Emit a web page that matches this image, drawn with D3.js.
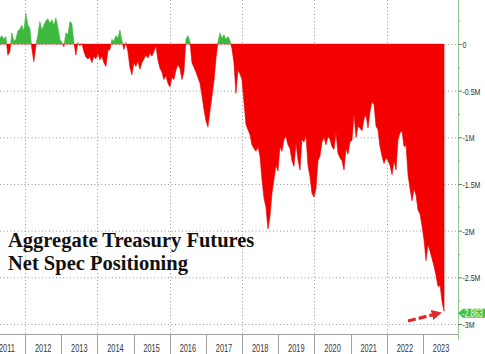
<!DOCTYPE html>
<html><head><meta charset="utf-8">
<script src="https://cdn.jsdelivr.net/npm/d3@7"></script>
<style>
html,body{margin:0;padding:0;background:#fff;}
svg{display:block;}
</style></head>
<body>
<svg id="chart" width="485" height="354"></svg>
<script>
// Net spec positioning (millions of contracts), sampled roughly every 20 days
const startDate = "2011-04-22";
const stepDays = 20.2;
const values = [
 0.06,0.09,0.05,0.08,-0.12,-0.08,0.12,0.03,0.05,0.14,
 0.16,0.2,0.14,0.33,0.2,0.17,-0.05,-0.19,-0.02,0.1,
 0.24,0.15,0.2,0.25,0.27,0.22,0.26,0.2,0.28,0.18,
 0.05,0.02,-0.03,0.12,0.1,0.24,0.22,0.02,-0.12,0.02,
 -0.02,0.01,-0.08,-0.14,-0.16,-0.14,-0.2,-0.13,-0.16,-0.1,
 -0.17,-0.13,-0.2,-0.24,-0.07,-0.06,0.05,0.03,0.09,0.06,
 0.15,0.04,-0.06,0.02,-0.08,-0.25,-0.33,-0.2,-0.24,-0.18,
 -0.27,-0.2,-0.16,-0.12,-0.15,-0.1,-0.13,-0.08,-0.02,-0.17,
 -0.26,-0.3,-0.38,-0.34,-0.42,-0.46,-0.36,-0.38,-0.28,-0.22,
 -0.26,-0.38,-0.3,0.05,0.09,0.03,-0.2,-0.25,-0.3,-0.36,
 -0.42,-0.55,-0.7,-0.82,-0.89,-0.72,-0.56,-0.4,-0.16,0.02,
 0.12,0.06,0.1,0.05,0.08,0.04,-0.05,-0.2,-0.53,-0.28,
 -0.32,-0.38,-0.62,-0.86,-0.92,-0.97,-1.08,-1.12,-1.15,-1.1,
 -1.2,-1.45,-1.65,-1.75,-1.98,-1.85,-1.6,-1.45,-1.3,-1.36,
 -1.1,-1.15,-1.02,-0.99,-1.08,-1.12,-1.25,-1.31,-1.06,-1.24,
 -1.35,-1.02,-1.05,-0.98,-1.3,-1.42,-1.6,-1.64,-1.55,-1.25,
 -1.2,-1.05,-1.0,-1.08,-0.99,-1.02,-1.1,-1.13,-0.95,-1.17,
 -1.22,-1.25,-1.35,-1.12,-1.18,-1.05,-1.03,-0.75,-1.0,-0.88,
 -0.9,-0.93,-0.8,-0.76,-0.9,-0.72,-0.62,-0.65,-0.88,-0.92,
 -1.1,-1.2,-1.28,-1.22,-1.25,-1.3,-1.4,-1.25,-1.35,-1.02,
 -0.95,-0.93,-1.1,-1.08,-1.4,-1.55,-1.68,-1.55,-1.62,-1.78,
 -1.82,-1.95,-2.1,-2.32,-2.15,-2.22,-2.3,-2.38,-2.48,-2.6,
 -2.58,-2.76,-2.863
];
const years = [2011,2012,2013,2014,2015,2016,2017,2018,2019,2020,2021,2022,2023];
const gridYears = [2012,2014,2016,2018,2020,2022];
const yTicks = [0,-0.5,-1,-1.5,-2,-2.5,-3];
const yTickLabels = ["0","-0.5M","-1M","-1.5M","-2M","-2.5M","-3M"];
const yMinorTicks = [0.25,-0.25,-0.75,-1.25,-1.75,-2.25,-2.75];
const lastLabel = "-2.863";
const titleLines = ["Aggregate Treasury Futures","Net Spec Positioning"];

const svg = d3.select("#chart");
const W = 485, H = 354;
const plotRight = 458, plotBottom = 334;
const axisFont = "'Liberation Sans',Arial,sans-serif";
const condense = 0.74;

const t0 = new Date(startDate + "T00:00:00Z").getTime();
const data = values.map((v,i)=>({date:new Date(t0 + i*stepDays*86400000), v}));

const x = d3.scaleUtc()
  .domain([new Date(Date.UTC(2012,0,1)), new Date(Date.UTC(2023,0,1))])
  .range([25,423]);
const y = d3.scaleLinear().domain([0,-3]).range([44,324]);

// grid
const grid = svg.append("g");
grid.selectAll("line.h").data(yTicks).join("line")
  .attr("x1",0).attr("x2",plotRight).attr("y1",d=>y(d)+0.5).attr("y2",d=>y(d)+0.5)
  .attr("stroke","#9a9a9a").attr("stroke-width",1).attr("stroke-dasharray","1,2.5");
grid.selectAll("line.v").data(gridYears).join("line")
  .attr("x1",d=>Math.round(x(new Date(Date.UTC(d,0,1))))+0.5)
  .attr("x2",d=>Math.round(x(new Date(Date.UTC(d,0,1))))+0.5)
  .attr("y1",0).attr("y2",plotBottom)
  .attr("stroke","#9a9a9a").attr("stroke-width",1).attr("stroke-dasharray","1,2.5");

// areas
const defs = svg.append("defs");
defs.append("clipPath").attr("id","pos").append("rect")
  .attr("x",0).attr("y",0).attr("width",plotRight).attr("height",y(0));
defs.append("clipPath").attr("id","neg").append("rect")
  .attr("x",0).attr("y",y(0)).attr("width",plotRight).attr("height",plotBottom-y(0));

const area = d3.area().x(d=>x(d.date)).y0(y(0)).y1(d=>y(d.v)).curve(d3.curveLinear);
svg.append("path").datum(data).attr("d",area).attr("fill","#3db93d")
  .attr("stroke","#3db93d").attr("stroke-width",0.6).attr("clip-path","url(#pos)");
svg.append("path").datum(data).attr("d",area).attr("fill","#f40000")
  .attr("stroke","#e00000").attr("stroke-width",0.6).attr("clip-path","url(#neg)");

// bottom axis
const bx = svg.append("g");
bx.append("line").attr("x1",0).attr("x2",plotRight).attr("y1",plotBottom+0.5).attr("y2",plotBottom+0.5)
  .attr("stroke","#a0a0a0");
bx.selectAll("line.sep").data(years.slice(1)).join("line")
  .attr("x1",d=>Math.round(x(new Date(Date.UTC(d,0,1))))+0.5)
  .attr("x2",d=>Math.round(x(new Date(Date.UTC(d,0,1))))+0.5)
  .attr("y1",plotBottom).attr("y2",H).attr("stroke","#a0a0a0");
bx.selectAll("text").data(years).join("text")
  .attr("transform",d=>`translate(${x(new Date(Date.UTC(d,6,2)))},352) scale(${condense},1)`)
  .attr("text-anchor","middle")
  .attr("font-family",axisFont)
  .attr("font-size","10px").attr("fill","#333").text(d=>d);

// right axis
const ry = svg.append("g");
ry.append("line").attr("x1",plotRight+0.5).attr("x2",plotRight+0.5).attr("y1",0).attr("y2",340)
  .attr("stroke","#8fcf8f").attr("stroke-width",1);
ry.selectAll("line.maj").data(yTicks).join("line")
  .attr("x1",plotRight).attr("x2",plotRight+4).attr("y1",d=>y(d)+0.5).attr("y2",d=>y(d)+0.5)
  .attr("stroke","#777");
ry.selectAll("line.min").data(yMinorTicks).join("line")
  .attr("x1",plotRight).attr("x2",plotRight+2).attr("y1",d=>y(d)+0.5).attr("y2",d=>y(d)+0.5)
  .attr("stroke","#999");
ry.selectAll("text").data(yTicks).join("text")
  .attr("transform",d=>`translate(${plotRight+4.5},${y(d)+0.5}) scale(${condense},1)`)
  .attr("dy","0.35em")
  .attr("font-family",axisFont)
  .attr("font-size","9.5px").attr("fill","#333")
  .text((d,i)=>yTickLabels[i]);

// last value label
const lv = values[values.length-1];
const ly = y(lv)+2;
svg.append("path")
  .attr("d",`M${plotRight},${ly} L${plotRight+5},${ly-4.5} L${W},${ly-4.5} L${W},${ly+4.5} L${plotRight+5},${ly+4.5} Z`)
  .attr("fill","#3fc23f");
svg.append("text")
  .attr("transform",`translate(${plotRight+4},${ly}) scale(${condense},1)`)
  .attr("dy","0.35em")
  .attr("font-family",axisFont)
  .attr("font-size","10px").attr("fill","#f4fff4").text(lastLabel);

// red dashed arrow
defs.append("marker").attr("id","ah").attr("viewBox","0 0 10 10").attr("refX",2).attr("refY",5)
  .attr("markerWidth",3.2).attr("markerHeight",3.2).attr("orient","auto")
  .append("path").attr("d","M0,0 L10,5 L0,10 Z").attr("fill","#dd2a2a");
svg.append("path").attr("d","M408,321 L434,314.5")
  .attr("stroke","#dd2a2a").attr("stroke-width",3.2).attr("fill","none")
  .attr("stroke-dasharray","8,3").attr("marker-end","url(#ah)");

// title
const title = svg.append("text").attr("x",8)
  .attr("font-family","'Liberation Serif','Times New Roman',serif")
  .attr("font-weight","bold").attr("font-size","20.5px").attr("fill","#111");
title.append("tspan").attr("x",8).attr("y",247).text(titleLines[0]);
title.append("tspan").attr("x",8).attr("y",270).text(titleLines[1]);
</script>
</body></html>
